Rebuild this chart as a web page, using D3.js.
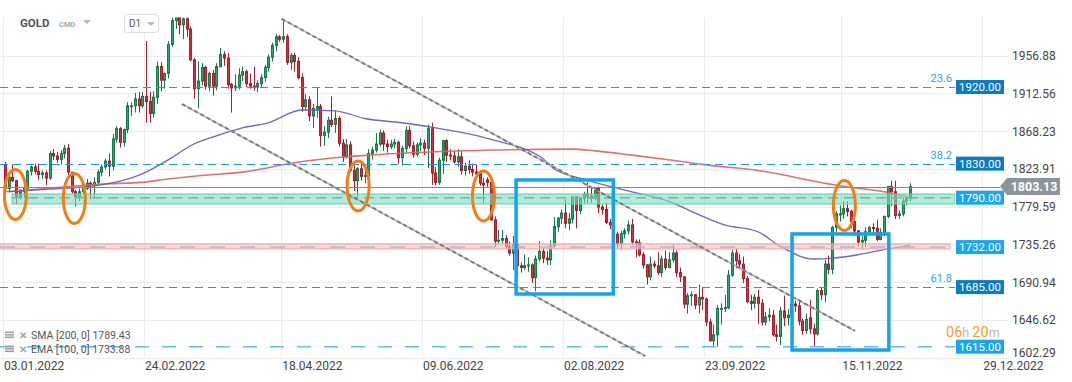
<!DOCTYPE html>
<html><head><meta charset="utf-8">
<script src="https://cdn.jsdelivr.net/npm/d3@7"></script>
<style>
html,body{margin:0;padding:0;background:#fff;}
svg{display:block;font-family:Roboto,"Noto Sans",sans-serif;}
</style></head><body>
<svg id="chart" width="1072" height="382"></svg>
<script>
// ---------- DATA ----------
// daily candles [open, high, low, close], 03.01.2022 .. 09.12.2022
const ohlc = [
[1829,1832,1799,1801],[1801,1815,1798,1814],[1814,1829,1808,1810],[1810,1811,1782,1791],[1791,1800,1788,1797],
[1797,1804,1790,1801],[1801,1823,1800,1821],[1821,1828,1816,1826],[1826,1830,1818,1821],[1821,1830,1811,1817],
[1817,1822,1812,1819],[1819,1822,1805,1813],[1813,1845,1811,1842],[1842,1847,1834,1839],[1839,1844,1831,1835],
[1835,1846,1829,1842],[1842,1852,1836,1848],[1848,1853,1815,1820],[1820,1820,1795,1797],[1797,1799,1780,1791],
[1791,1801,1786,1797],
[1797,1807,1795,1801],[1801,1812,1799,1807],[1807,1809,1788,1805],[1805,1814,1791,1808],[1808,1823,1806,1820],
[1820,1829,1815,1826],[1826,1836,1823,1833],[1833,1842,1815,1827],[1827,1865,1822,1859],[1859,1874,1855,1871],
[1871,1873,1849,1855],[1855,1871,1850,1870],[1870,1902,1866,1898],[1898,1902,1886,1898],[1898,1913,1890,1906],
[1906,1914,1890,1898],[1898,1914,1895,1909],[1909,1974,1878,1903],[1903,1914,1878,1889],[1889,1915,1884,1908],
[1908,1950,1900,1944],[1944,1949,1915,1928],[1928,1937,1918,1936],[1936,1974,1930,1970],[1970,2002,1967,1998],
[1998,2070,1988,2050],[2050,2055,1982,1993],[1993,2010,1976,2000],[2000,2009,1979,1988],[1988,1991,1950,1952],
[1952,1954,1906,1918],[1918,1950,1895,1927],[1927,1948,1922,1943],[1943,1945,1917,1921],[1921,1938,1915,1936],
[1936,1940,1910,1921],[1921,1948,1916,1944],[1944,1966,1943,1958],[1958,1962,1945,1954],[1954,1960,1918,1923],
[1923,1925,1890,1919],[1919,1935,1915,1921],[1921,1942,1917,1934],
[1934,1944,1927,1938],[1938,1940,1920,1924],[1924,1936,1918,1921],[1921,1944,1916,1920],[1920,1928,1914,1924],
[1924,1935,1920,1931],[1931,1946,1926,1943],[1943,1958,1938,1955],[1955,1972,1950,1969],[1969,1982,1962,1979],
[1979,1981,1973,1976],[1976,1998,1972,1979],[1979,1982,1946,1949],[1949,1960,1940,1957],[1957,1960,1938,1950],
[1950,1955,1929,1931],[1931,1936,1891,1897],[1897,1912,1893,1905],[1905,1909,1880,1886],[1886,1900,1872,1895],
[1894,1920,1884,1897],
[1897,1900,1850,1863],[1863,1874,1851,1867],[1867,1885,1860,1881],[1881,1909,1873,1876],[1876,1892,1866,1883],
[1883,1886,1850,1854],[1854,1859,1832,1838],[1838,1859,1836,1852],[1852,1856,1820,1822],[1822,1828,1798,1810],
[1810,1826,1787,1824],[1824,1833,1810,1815],[1815,1822,1807,1816],[1816,1847,1813,1842],[1842,1850,1835,1846],
[1846,1866,1843,1853],[1853,1870,1850,1866],[1866,1869,1845,1853],[1853,1858,1843,1850],[1850,1858,1847,1853],
[1853,1859,1848,1855],[1855,1857,1830,1837],
[1837,1851,1828,1848],[1848,1874,1843,1869],[1869,1874,1848,1851],[1851,1856,1837,1841],[1841,1855,1838,1852],
[1852,1860,1845,1854],[1854,1858,1840,1848],[1848,1876,1825,1871],[1871,1878,1805,1819],[1819,1826,1805,1808],
[1808,1837,1805,1834],[1834,1857,1818,1857],[1857,1859,1832,1840],[1840,1847,1834,1839],[1839,1845,1830,1832],
[1832,1847,1826,1838],[1838,1845,1817,1822],[1822,1831,1816,1827],[1827,1834,1818,1823],[1823,1830,1815,1820],
[1820,1829,1812,1818],[1818,1822,1804,1807],
[1807,1813,1784,1805],[1811,1814,1803,1808],[1808,1812,1763,1764],[1764,1768,1732,1739],[1739,1752,1736,1740],
[1740,1752,1736,1742],[1742,1746,1730,1733],[1733,1738,1722,1725],[1725,1745,1705,1735],[1735,1736,1697,1710],
[1710,1714,1702,1708],[1708,1723,1705,1710],[1710,1720,1703,1711],[1711,1713,1690,1696],[1696,1722,1680,1718],
[1718,1739,1715,1727],[1727,1731,1713,1719],[1719,1727,1711,1717],[1717,1740,1711,1734],[1734,1767,1732,1756],
[1756,1767,1750,1766],
[1766,1776,1759,1772],[1772,1788,1754,1760],[1760,1772,1752,1765],[1765,1792,1760,1791],[1791,1792,1754,1775],
[1775,1791,1771,1789],[1789,1797,1783,1794],[1794,1808,1784,1792],[1792,1802,1784,1789],[1789,1802,1787,1802],
[1802,1803,1772,1779],[1779,1782,1770,1776],[1776,1783,1759,1761],[1761,1765,1753,1758],[1758,1761,1744,1747],
[1747,1750,1731,1736],[1736,1751,1729,1748],[1748,1754,1742,1751],[1751,1763,1747,1758],[1758,1765,1734,1738],
[1738,1741,1720,1737],[1737,1741,1721,1723],[1723,1726,1707,1711],
[1711,1712,1688,1697],[1697,1721,1693,1712],[1712,1716,1707,1710],[1710,1726,1699,1702],[1702,1722,1697,1718],
[1718,1728,1705,1708],[1708,1726,1707,1717],[1717,1735,1714,1725],[1725,1728,1697,1702],[1702,1708,1691,1697],
[1697,1698,1660,1665],[1665,1678,1654,1675],[1675,1680,1663,1676],[1676,1677,1659,1664],[1664,1688,1654,1673],
[1673,1684,1658,1671],[1671,1673,1639,1644],[1644,1648,1621,1622],[1622,1641,1615,1629],[1629,1664,1615,1660],
[1660,1666,1641,1660],[1660,1676,1656,1661],
[1661,1705,1659,1699],[1699,1729,1697,1725],[1725,1730,1707,1716],[1716,1724,1708,1712],[1712,1721,1690,1695],
[1695,1698,1666,1668],[1668,1676,1658,1666],[1666,1677,1660,1673],[1673,1682,1642,1666],[1666,1671,1640,1644],
[1644,1656,1640,1650],[1650,1660,1645,1652],[1652,1658,1627,1629],[1629,1641,1621,1627],[1627,1662,1617,1657],
[1657,1675,1639,1649],[1649,1659,1640,1652],[1652,1670,1650,1665],[1665,1669,1656,1663],[1663,1668,1640,1645],
[1645,1648,1629,1634],
[1634,1654,1630,1647],[1649,1670,1630,1636],[1636,1642,1616,1630],[1630,1683,1628,1681],[1681,1684,1670,1676],
[1676,1717,1667,1712],[1712,1722,1700,1706],[1706,1757,1700,1755],[1755,1774,1749,1771],[1771,1781,1762,1771],
[1771,1786,1765,1777],[1777,1786,1768,1774],[1774,1776,1754,1762],[1762,1766,1745,1751],[1751,1752,1733,1738],
[1738,1745,1729,1740],[1740,1755,1732,1750],[1750,1757,1746,1755],[1755,1760,1748,1754],[1754,1764,1739,1741],
[1741,1754,1740,1749],[1749,1769,1745,1768],
[1768,1804,1766,1803],[1803,1810,1780,1797],[1797,1810,1765,1769],[1769,1775,1765,1771],[1771,1790,1768,1786],
[1786,1792,1781,1789],[1789,1807,1786,1803.13]
];
// moving averages: [candle index, value]
const smaPoints = [[0,1797],[12,1801],[26,1806],[37,1808],[44,1812],[53,1816],[64,1820],[78,1831],[92,1838],
  [98,1840],[116,1844],[132,1846],[153,1847],[159,1845],[169,1840],[180,1834],[190,1828],[203,1822],
  [221,1807],[225,1804],[238,1796],[244,1790]];
const emaPoints = [[1,1797],[12,1800],[26,1805],[37,1818],[45,1837],[50,1851],[58,1864],[64,1872],[71,1878],
  [80,1893],[89,1892],[97,1883],[107,1878],[116,1872],[126,1864],[134,1855],[139,1849],[145,1836],[148,1824],
  [155,1813],[166,1800],[180,1784],[185,1774],[194,1758],[203,1750],[209,1733],[218,1718],[223,1719],
  [230,1723],[237,1729],[244,1734]];
const priceTicks = [1956.88,1912.56,1868.23,1823.91,1779.59,1735.26,1690.94,1646.62,1602.29];
const dateLabels = ["03.01.2022","24.02.2022","18.04.2022","09.06.2022","02.08.2022","23.09.2022","15.11.2022","29.12.2022"];
const dateTickIdx = [0,38,75,113,151,189,226,264];
const fibLevels = [1920,1830,1685];
const fibRatios = ["23.6","38.2","61.8"];
const supportLevel = 1615;
const greenLevel = 1790, greenZone = [1782.6,1794.3];
const pinkLevel = 1732, pinkZone = [1729.8,1735.8];
const lastPrice = 1803.13;
const trendA = [[74.6,2000],[229.2,1633.5]];
const trendB = [[47.7,1900],[172.6,1604]];
const ellipseCenters = [[2.8,1793.8],[18.7,1789.1],[95.2,1803.7],[129,1792],[226.3,1780.8]];
const boxes = [[137.8,164,1810.8,1676.9],[212.2,238.3,1747.4,1611.1]];
const legendItems = [["SMA  [200,  0]","1789.43"],["EMA  [100,  0]","1733.88"]];

// ---------- CHART ----------
const svg = d3.select("#chart");
const x = d3.scaleLinear().domain([0,244]).range([5,910]);
const y = d3.scaleLinear().domain([1615,1920]).range([346.7,87]);
const plotTop = 17.5, plotBottom = 357.5, plotRight = 1008, zoneRight = 955;

svg.append("defs").append("clipPath").attr("id","clip")
  .append("rect").attr("x",0).attr("y",plotTop).attr("width",zoneRight).attr("height",plotBottom-plotTop);

// grid
const grid = svg.append("g");
priceTicks.forEach(p=>{
  const yy = Math.round(y(p))+0.5;
  grid.append("line").attr("x1",0).attr("x2",plotRight).attr("y1",yy).attr("y2",yy)
    .attr("stroke","#ececec").attr("stroke-width",1);
});
dateTickIdx.forEach(i=>{
  const xx = Math.round(x(i)-2)+0.5;
  grid.append("line").attr("x1",xx).attr("x2",xx).attr("y1",plotTop).attr("y2",plotBottom)
    .attr("stroke","#ececec").attr("stroke-width",1);
});

// axis labels
const yAxisG = svg.append("g").attr("font-size",12).attr("fill","#444");
priceTicks.forEach(p=>{
  yAxisG.append("text").attr("x",1012).attr("y",Math.min(y(p),352)+4.5).text(p.toFixed(2));
});
const xAxisG = svg.append("g").attr("font-size",12).attr("fill","#444");
dateTickIdx.forEach((i,k)=>{
  xAxisG.append("text").attr("x",x(i)-1).attr("y",370).text(dateLabels[k]);
});

const plot = svg.append("g").attr("clip-path","url(#clip)");

// candles
const cg = plot.append("g");
ohlc.forEach((d,i)=>{
  const [o,h,l,c] = d;
  const up = c>=o;
  const cx = Math.round(x(i));
  const dark = up ? "#18784a" : "#a71f2e";
  const fill = up ? "#2aa76b" : "#e2293d";
  cg.append("line").attr("x1",cx+0.5).attr("x2",cx+0.5).attr("y1",y(h)).attr("y2",y(l))
    .attr("stroke",dark).attr("stroke-width",1);
  const top = y(Math.max(o,c)), bot = y(Math.min(o,c));
  cg.append("rect").attr("x",cx-0.5).attr("y",top).attr("width",2).attr("height",Math.max(1,bot-top))
    .attr("fill",fill).attr("stroke",dark).attr("stroke-width",1);
});

// moving averages
const line = d3.line().x(d=>x(d[0])).y(d=>y(d[1])).curve(d3.curveMonotoneX);
plot.append("path").attr("d",line(smaPoints)).attr("fill","none").attr("stroke","#e06060").attr("stroke-width",1.6).attr("opacity",0.9);
plot.append("path").attr("d",line(emaPoints)).attr("fill","none").attr("stroke","#5b5bb0").attr("stroke-width",1.3).attr("opacity",0.9);

// zones
plot.append("rect").attr("x",12).attr("width",zoneRight-12).attr("y",y(greenZone[1])).attr("height",y(greenZone[0])-y(greenZone[1]))
  .attr("fill","#80dcbb").attr("fill-opacity",0.6).attr("stroke","#5fcfa4").attr("stroke-width",1);
plot.append("line").attr("x1",12).attr("x2",zoneRight).attr("y1",y(greenLevel)).attr("y2",y(greenLevel))
  .attr("stroke","#5db9d6").attr("stroke-width",1.5).attr("stroke-dasharray","10,6");
plot.append("rect").attr("x",0).attr("width",950).attr("y",y(pinkZone[1])).attr("height",y(pinkZone[0])-y(pinkZone[1]))
  .attr("fill","#fab9b9").attr("fill-opacity",0.6).attr("stroke","#f3a3a3").attr("stroke-width",1);
plot.append("line").attr("x1",0).attr("x2",950).attr("y1",y(pinkLevel)).attr("y2",y(pinkLevel))
  .attr("stroke","#a9bad8").attr("stroke-width",1.5).attr("stroke-dasharray","15,15");

// fib and support lines
fibLevels.forEach((lv,k)=>{
  plot.append("line").attr("x1",0).attr("x2",zoneRight).attr("y1",Math.round(y(lv))+0.5).attr("y2",Math.round(y(lv))+0.5)
    .attr("stroke","#1a9be6").attr("stroke-width",1.2).attr("stroke-dasharray","8,5");
  svg.append("text").attr("x",952).attr("y",y(lv)-5).attr("text-anchor","end").attr("font-size",11)
    .attr("fill","#2aa5ee").text(fibRatios[k]);
});
plot.append("line").attr("x1",0).attr("x2",zoneRight).attr("y1",y(supportLevel)).attr("y2",y(supportLevel))
  .attr("stroke","#5cc0f2").attr("stroke-width",1.5).attr("stroke-dasharray","14,13");

// current price line
svg.append("line").attr("x1",0).attr("x2",1000).attr("y1",Math.round(y(lastPrice))+0.5).attr("y2",Math.round(y(lastPrice))+0.5)
  .attr("stroke","#7f898f").attr("stroke-width",1);

// trend lines
[trendA,trendB].forEach(t=>{
  const g = plot.append("g");
  g.append("line").attr("x1",x(t[0][0])).attr("y1",y(t[0][1])).attr("x2",x(t[1][0])).attr("y2",y(t[1][1]))
    .attr("stroke","#b4b4b4").attr("stroke-width",1.6);
  g.append("line").attr("x1",x(t[0][0])).attr("y1",y(t[0][1])).attr("x2",x(t[1][0])).attr("y2",y(t[1][1]))
    .attr("stroke","#666").attr("stroke-width",2).attr("stroke-dasharray","4,3").attr("opacity",0.75);
});

// ellipses
ellipseCenters.forEach(e=>{
  svg.append("ellipse").attr("cx",x(e[0])).attr("cy",y(e[1])).attr("rx",11).attr("ry",25)
    .attr("fill","none").attr("stroke","#f07d16").attr("stroke-width",3);
});
// boxes
boxes.forEach(b=>{
  svg.append("rect").attr("x",x(b[0])).attr("y",y(b[2])).attr("width",x(b[1])-x(b[0])).attr("height",y(b[3])-y(b[2]))
    .attr("fill","none").attr("stroke","#12a5ee").attr("stroke-width",3.5);
});

// countdown (sits just above the 1615 tag)
{
  const t = svg.append("text").attr("x",946).attr("y",337).attr("font-size",14.5);
  t.append("tspan").attr("fill","#f5a02a").text("06");
  t.append("tspan").attr("fill","#b8b8b8").attr("font-size",12.5).text("h ");
  t.append("tspan").attr("fill","#f5a02a").text("20");
  t.append("tspan").attr("fill","#b8b8b8").attr("font-size",12.5).text("m");
}

// level label boxes
const levelBoxes = [[1920,"#0b7bc2"],[1830,"#0b7bc2"],[greenLevel,"#1aa6ef"],[pinkLevel,"#1aa6ef"],[1685,"#0b7bc2"],[supportLevel,"#1aa6ef"]];
levelBoxes.forEach(([lv,col])=>{
  const yy = y(lv);
  svg.append("rect").attr("x",956).attr("y",yy-7).attr("width",48).attr("height",14).attr("fill",col);
  svg.append("text").attr("x",980).attr("y",yy+4).attr("text-anchor","middle").attr("font-size",11.5)
    .attr("fill","#fff").text(lv.toFixed(2));
});

// current price tag
{
  const yy = y(lastPrice);
  svg.append("path").attr("d",`M1000,${yy} L1007,${yy-8.5} L1060,${yy-8.5} L1060,${yy+8.5} L1007,${yy+8.5} Z`).attr("fill","#8b959c");
  svg.append("text").attr("x",1034).attr("y",yy+4.5).attr("text-anchor","middle").attr("font-size",12.5)
    .attr("font-weight","bold").attr("fill","#fff").text(lastPrice.toFixed(2));
}

// legend
legendItems.forEach((it,k)=>{
  const yy = 339 + k*14;
  const g = svg.append("g");
  for(let j=0;j<3;j++) g.append("rect").attr("x",5).attr("y",yy-7.5+j*2.5).attr("width",9).attr("height",1.6).attr("fill","#9aa0a6");
  g.append("text").attr("x",19).attr("y",yy).attr("font-size",10).attr("font-weight","bold").attr("fill","#a0a6ac").text("✕");
  g.append("text").attr("x",31).attr("y",yy).attr("font-size",10.5).attr("fill","#555").text(it[0]+" "+it[1]);
});

// header
svg.append("text").attr("x",20).attr("y",27).attr("font-size",11.5).attr("font-weight","bold").attr("fill","#50565b").text("GOLD");
svg.append("text").attr("x",59).attr("y",26.7).attr("font-size",7.5).attr("font-weight","bold").attr("fill","#9ea7b0").text("CMD");
svg.append("path").attr("d","M83,20 L91,20 L87,24 Z").attr("fill","#b4b9be");
svg.append("rect").attr("x",124.5).attr("y",14.5).attr("width",34).attr("height",18).attr("rx",3)
  .attr("fill","#fff").attr("stroke","#dcdcdc");
svg.append("text").attr("x",129).attr("y",27).attr("font-size",10).attr("fill","#555").text("D1");
svg.append("path").attr("d","M147,22 L155,22 L151,26 Z").attr("fill","#b4b9be");
</script>
</body></html>
